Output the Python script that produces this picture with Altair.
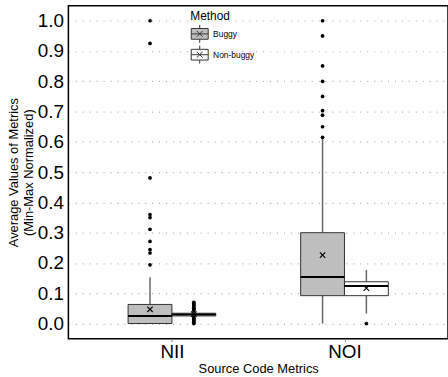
import altair as alt
import pandas as pd

# ---- data ----
categories = ["NII", "NOI"]
methods = ["Buggy", "Non-buggy"]

box_cat = ["NII", "NII", "NOI", "NOI"]
box_method = ["Buggy", "Non-buggy", "Buggy", "Non-buggy"]
whisker_lo = [0.0, 0.024, 0.0, 0.033]
q1 = [0.0, 0.025, 0.092, 0.092]
median = [0.025, 0.030, 0.154, 0.124]
q3 = [0.063, 0.034, 0.300, 0.138]
whisker_hi = [0.153, 0.036, 0.612, 0.177]
mean = [0.047, 0.031, 0.226, 0.117]

out_nii_buggy = [1.0, 0.925, 0.481, 0.36, 0.35, 0.311, 0.271, 0.244, 0.233, 0.194]
out_nii_nonbuggy = [0.07, 0.066, 0.062, 0.058, 0.054, 0.05, 0.046, 0.042,
                    0.02, 0.016, 0.012, 0.008, 0.004, 0.0]
out_noi_buggy = [1.0, 0.95, 0.851, 0.80, 0.75, 0.703, 0.688, 0.65, 0.615]
out_noi_nonbuggy = [0.0]

y_ticks = [0.0, 0.1, 0.2, 0.3, 0.4, 0.5, 0.6, 0.7, 0.8, 0.9, 1.0]

stats = pd.DataFrame({
    "cat": box_cat, "method": box_method,
    "lo": whisker_lo, "q1": q1, "med": median, "q3": q3,
    "hi": whisker_hi, "mean": mean,
})

rows = []
for c, m, vals in [("NII", "Buggy", out_nii_buggy),
                   ("NII", "Non-buggy", out_nii_nonbuggy),
                   ("NOI", "Buggy", out_noi_buggy),
                   ("NOI", "Non-buggy", out_noi_nonbuggy)]:
    for v in vals:
        rows.append({"cat": c, "method": m, "value": v})
outliers = pd.DataFrame(rows)

# dodge transform (category index +/- offset)
calc_idx = "indexof(['NII','NOI'], datum.cat) + 1"
calc_x = "datum.ci + (datum.method == 'Buggy' ? -0.127 : 0.127)"

x_scale = alt.Scale(domain=[0.4, 2.6], nice=False, zero=False)
y_scale = alt.Scale(domain=[-0.05, 1.05], nice=False, zero=False)

x_axis = alt.Axis(
    values=[1, 2],
    labelExpr="datum.value == 1 ? 'NII' : 'NOI'",
    title="Source Code Metrics",
    grid=False, domain=False, ticks=True, tickSize=3, tickColor="#888888",
    labelFontSize=19, labelColor="black", labelPadding=1, labelOverlap=False,
    titleFontSize=13, titleFontWeight="normal", titleColor="black", titlePadding=1,
    labelFont="Liberation Sans", titleFont="Liberation Sans",
)
y_axis = alt.Axis(
    values=y_ticks,
    format=".1f",
    title=["Average Values of Metrics", "(Min-Max Normalized)"],
    grid=True, gridColor="#aaaaaa", gridDash=[1, 6], gridWidth=1.2,
    domain=False, ticks=False, labelOverlap=False,
    labelFontSize=19, labelColor="black", labelPadding=5,
    titleFontSize=13, titleFontWeight="normal", titleColor="black", titlePadding=2,
    labelFont="Liberation Sans", titleFont="Liberation Sans",
)

def X(field):
    return alt.X(field, scale=x_scale, axis=x_axis)

def Y(field):
    return alt.Y(field, scale=y_scale, axis=y_axis)

base = alt.Chart(stats).transform_calculate(ci=calc_idx).transform_calculate(xc=calc_x).transform_calculate(
    x1="datum.xc - 0.127", x2="datum.xc + 0.127")

legend_symbol = ("M-0.95,-0.6H0.95V0.6H-0.95Z M0,-1V-0.6 M0,0.6V1 "
                 "M-0.95,0H0.95 M-0.33,-0.33L0.33,0.33 M-0.33,0.33L0.33,-0.33")

whiskers = base.mark_rule(color="#666666", strokeWidth=1.5).encode(
    x=X("xc:Q"), y=Y("lo:Q"), y2="hi:Q",
)

boxes = base.mark_rect(stroke="#333333", strokeWidth=1).encode(
    x=X("x1:Q"), x2="x2:Q", y=Y("q1:Q"), y2="q3:Q",
    fill=alt.Fill("method:N",
                  scale=alt.Scale(domain=methods, range=["#bebebe", "#ffffff"]),
                  legend=alt.Legend(
                      title="Method", orient="none", legendX=123, legendY=5,
                      symbolType=legend_symbol, symbolSize=324,
                      symbolStrokeColor="#333333", symbolStrokeWidth=1,
                      symbolOpacity=1,
                      titleFontSize=12, titleFontWeight="normal", titleColor="black",
                      titleFont="Liberation Sans", titlePadding=2,
                      labelFontSize=8.5, labelColor="black", labelFont="Liberation Sans",
                      labelOffset=4, rowPadding=-2,
                  )),
)

medians = base.mark_rule(color="black", strokeWidth=2).encode(
    x=X("x1:Q"), x2="x2:Q", y=Y("med:Q"),
)

means = base.mark_point(shape="M-1,-1L1,1M-1,1L1,-1", size=30, filled=False,
                        color="black", strokeWidth=1.2, opacity=1).encode(
    x=X("xc:Q"), y=Y("mean:Q"),
)

outs = alt.Chart(outliers).transform_calculate(ci=calc_idx).transform_calculate(xc=calc_x).mark_circle(
    size=14, color="black", opacity=1).encode(
    x=X("xc:Q"), y=Y("value:Q"),
)

chart = alt.layer(whiskers, boxes, medians, means, outs).properties(
    width=383, height=336,
    autosize=alt.AutoSizeParams(type="none"),
    padding={"left": 69, "top": 4, "right": 0, "bottom": 37},
    background="white",
).configure_view(stroke="black", strokeWidth=1.5)

chart.save("out.html", embed_options={"renderer": "svg", "actions": False})
